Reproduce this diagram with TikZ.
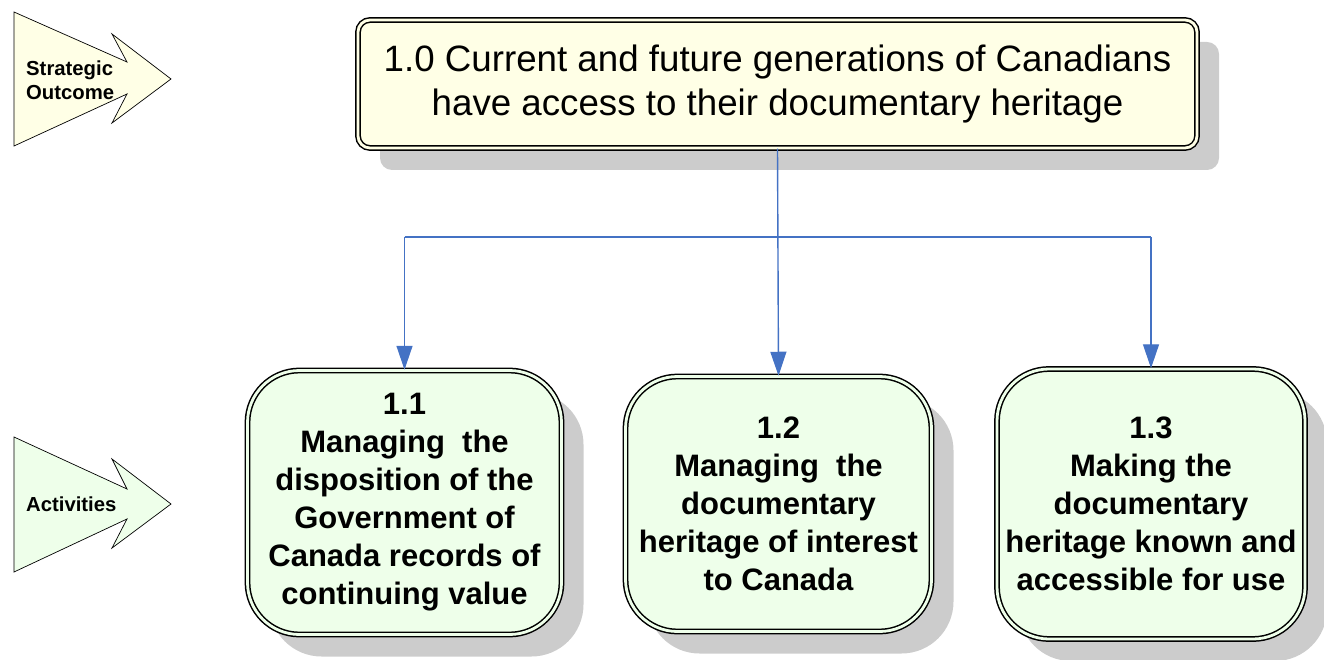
\documentclass[tikz,border=0pt]{standalone}
\usepackage{fontspec}
\setmainfont{Liberation Sans}
\usetikzlibrary{arrows.meta,shadows}
\definecolor{cream}{RGB}{255,255,230}
\definecolor{mint}{RGB}{238,255,234}
\definecolor{shade}{RGB}{204,204,204}
\definecolor{linkblue}{RGB}{68,114,196}
\begin{document}
\begin{tikzpicture}[x=1pt,y=-1pt,
  box/.style={draw=black, line width=1.5pt, double distance=2.8pt,
    drop shadow={shadow xshift=22pt,shadow yshift=-22pt,fill=shade,opacity=1,draw=none},
    align=center, inner sep=0pt},
  topbox/.style={box, fill=cream, double=cream, rounded corners=12pt,
    minimum width=839pt, minimum height=128pt, font=\fontsize{36.7}{44}\selectfont},
  actbox/.style={box, fill=mint, double=mint, rounded corners=52pt,
    font=\fontsize{31}{38}\selectfont\bfseries},
  conn/.style={draw=linkblue, line width=1.4pt},
  tipped/.style={conn, -{Triangle[width=16pt,length=24pt]}},
  bigarrow/.style={draw=black, line width=0.7pt, line join=miter},
  lbl/.style={anchor=west, align=left, inner sep=0pt, font=\fontsize{20.3}{24}\selectfont\bfseries}]
\useasboundingbox (0,0) rectangle (1324,660);

% left arrows
\draw[bigarrow, fill=cream] (14,12) -- (127,62) -- (112,34) -- (171,79) -- (112,123) -- (127,94) -- (14,146) -- cycle;
\draw[bigarrow, fill=mint] (14,437) -- (127,489) -- (112,459) -- (171,504) -- (112,548) -- (127,519) -- (14,572) -- cycle;
\node[lbl] (so) at (26,80) {Strategic\\Outcome};
\node[lbl] (ac) at (26,504) {Activities};

% boxes
\node[topbox] (top) at (777.5,84) {1.0 Current and future generations of Canadians\\have access to their documentary heritage};
\node[actbox, minimum width=314pt, minimum height=264pt] (b1) at (404.5,502.5)
  {1.1\\Managing~ the\\disposition of the\\Government of\\Canada records of\\continuing value};
\node[actbox, minimum width=306pt, minimum height=255pt] (b2) at (778.5,504)
  {1.2\\Managing~ the\\documentary\\heritage of interest\\to Canada};
\node[actbox, minimum width=308pt, minimum height=270pt] (b3) at (1151,504)
  {1.3\\Making the\\documentary\\heritage known and\\accessible for use};

% connectors
\coordinate (hl) at (b1.north |- 0,237);
\coordinate (hr) at (b3.north |- 0,237);
\draw[conn] (hl) -- (hr);
\draw[tipped] (top.south) -- (b2.north);
\draw[tipped] (hl) -- (b1.north);
\draw[tipped] (hr) -- (b3.north);
\end{tikzpicture}
\end{document}
